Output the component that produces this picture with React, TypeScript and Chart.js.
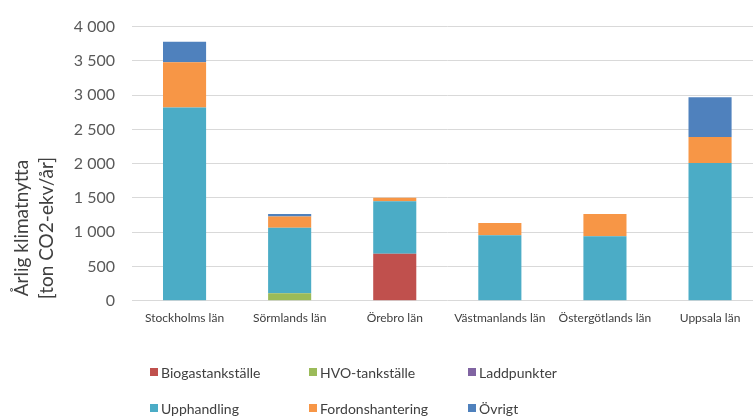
import React, { useEffect, useRef } from "react";
import { Chart, registerables } from "chart.js";

Chart.register(...registerables);

const categories = [
  "Stockholms län",
  "Sörmlands län",
  "Örebro län",
  "Västmanlands län",
  "Östergötlands län",
  "Uppsala län",
];

const biogas = [0, 0, 685, 0, 0, 0];
const hvo = [0, 110, 0, 0, 0, 0];
const laddpunkter = [0, 0, 0, 0, 0, 0];
const upphandling = [2818, 955, 766, 954, 939, 2010];
const fordonshantering = [660, 165, 50, 180, 325, 380];
const ovrigt = [300, 35, 0, 0, 0, 580];

const seriesLabels = [
  "Biogastankställe",
  "HVO-tankställe",
  "Laddpunkter",
  "Upphandling",
  "Fordonshantering",
  "Övrigt",
];
const seriesColors = ["#C0504D", "#9BBB59", "#8064A2", "#4BACC6", "#F79646", "#4F81BD"];
const yTitleLines = ["Årlig klimatnytta", "[ton CO2-ekv/år]"];

const fmt = (v: number) => String(v).replace(/\B(?=(\d{3})+(?!\d))/g, " ");

const customDraw = {
  id: "customDraw",
  afterDraw(chart: any) {
    const ctx = chart.ctx;
    ctx.save();
    ctx.fillStyle = "#404040";
    ctx.font = "19px Lato";
    ctx.textAlign = "center";
    ctx.textBaseline = "middle";
    const xs = [22, 47];
    yTitleLines.forEach((t, i) => {
      ctx.save();
      ctx.translate(xs[i], 228);
      ctx.rotate(-Math.PI / 2);
      ctx.fillText(t, 0, 0);
      ctx.restore();
    });
    const colX = [150, 309, 468];
    const rowY = [372, 408];
    chart.data.datasets.forEach((ds: any, i: number) => {
      const x = colX[i % 3];
      const y = rowY[Math.floor(i / 3)];
      ctx.fillStyle = ds.backgroundColor;
      ctx.fillRect(x, y - 4, 8, 8);
      ctx.fillStyle = "#404040";
      ctx.font = "14px Lato";
      ctx.textAlign = "left";
      ctx.textBaseline = "middle";
      ctx.fillText(ds.label, x + 11, y + 1);
    });
    ctx.restore();
  },
};

export default function App() {
  const ref = useRef<HTMLCanvasElement>(null);
  useEffect(() => {
    if (!ref.current) return;
    const data = [biogas, hvo, laddpunkter, upphandling, fordonshantering, ovrigt];
    const chart = new Chart(ref.current, {
      type: "bar",
      data: {
        labels: categories,
        datasets: data.map((d, i) => ({
          label: seriesLabels[i],
          data: d,
          backgroundColor: seriesColors[i],
          borderWidth: 0,
          barPercentage: 0.41,
          categoryPercentage: 1,
        })),
      },
      options: {
        responsive: false,
        animation: false,
        layout: { padding: { top: 24, right: 12.4, bottom: 86.3, left: 0 } },
        plugins: { legend: { display: false }, tooltip: { enabled: false } },
        scales: {
          x: {
            stacked: true,
            grid: { display: false, drawTicks: false },
            border: { display: false },
            ticks: { color: "#404040", font: { family: "Lato", size: 12 }, padding: 10, maxRotation: 0 },
            afterFit: (s: any) => {
              s.height = 30;
            },
          },
          y: {
            stacked: true,
            min: 0,
            max: 4000,
            grid: { color: "#D9D9D9", lineWidth: 1, drawTicks: false },
            border: { display: false },
            ticks: {
              stepSize: 500,
              color: "#595959",
              font: { family: "Lato", size: 16 },
              padding: 17,
              callback: (v: any) => fmt(Number(v)),
            },
            afterFit: (s: any) => {
              s.width = 132;
            },
          },
        },
      },
      plugins: [customDraw],
    });
    return () => chart.destroy();
  }, []);
  return (
    <div style={{ position: "fixed", left: 0, top: 0, width: 753, height: 417, overflow: "hidden", background: "#fff" }}>
      <canvas ref={ref} width={775} height={417} style={{ display: "block" }} />
    </div>
  );
}
